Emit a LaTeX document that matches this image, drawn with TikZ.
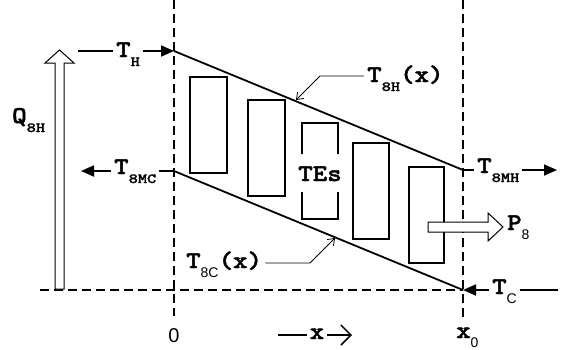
\documentclass[tikz,border=0pt]{standalone}
\usepackage{fontspec}
\setsansfont{Liberation Sans}
\newfontfamily\courb{lmmonolt10-bold.otf}[FakeStretch=1.15,FakeBold=1.8]
\newfontfamily\courbs{lmmonolt10-bold.otf}[FakeStretch=1.25,FakeBold=1.2]
\usetikzlibrary{arrows.meta}
\newcommand{\mainf}{\fontsize{24}{24}\selectfont\courb}
\newcommand{\subm}[1]{\raisebox{-9pt}{\fontsize{14}{14}\selectfont\courbs #1}}
\newcommand{\subsf}[1]{\raisebox{-9pt}{\fontsize{14}{14}\selectfont\sffamily #1}}
\tikzset{
  lbl/.style={inner xsep=3pt, inner ysep=0pt, font=\mainf},
  dashline/.style={line width=1.8pt, dash pattern=on 9pt off 5pt},
  mainline/.style={line width=1.8pt},
  boxline/.style={line width=1.6pt},
  tarrow/.style={line width=1.8pt, -{Triangle[length=13pt,width=11pt]}},
  leader/.style={line width=0.8pt, -{Straight Barb[length=6pt,width=9pt]}},
  openarrow/.style={line width=1pt, fill=white, line join=miter}
}
\begin{document}
\begin{tikzpicture}[x=1pt,y=-1pt]
\useasboundingbox (0,0) rectangle (569,349);
% key coordinates
\coordinate (hot) at (174,51);
\coordinate (mc) at (174,171);
\coordinate (mh) at (463,170);
\coordinate (cold) at (463,290);
\coordinate (thstart) at (78,51);
\coordinate (mcend) at (81,171);
\coordinate (mhend) at (557,170);
\coordinate (tcend) at (558,290);
\coordinate (hbend) at (320,76);
\coordinate (htip) at (296,100);
\coordinate (cbend) at (310,263);
\coordinate (ctip) at (335,238);
\coordinate (xstart) at (278,335);
\coordinate (xend) at (352,335);
% dashed guides
\draw[dashline] (174,0) -- (174,316);
\draw[dashline] (463,0) -- (463,317);
\draw[dashline] (40,290) -- (cold);
% main temperature lines
\draw[mainline] (hot) -- (mh);
\draw[mainline] (mc) -- (cold);
% TE boxes
\draw[boxline] (190,77) rectangle (227,173);
\draw[boxline] (248,100) rectangle (285,196);
\draw[boxline] (302,154) -- (302,123) -- (338,123) -- (338,154);
\draw[boxline] (302,192) -- (302,219) -- (338,219) -- (338,192);
\draw[boxline] (353,143) rectangle (389,239);
\draw[boxline] (409,167) rectangle (444,263);
\node[lbl, anchor=base] (tes) at (320,181) {TEs};
% P8 open arrow
\draw[openarrow] (428,222) -- (488,222) -- (488,213) -- (503,227) -- (488,241) -- (488,232) -- (428,232) -- cycle;
\node[lbl, anchor=base west] (p8) at (504,230) {P\subsf{8}};
% Q8H open arrow
\draw[openarrow] (55,289) -- (55,63) -- (45,63) -- (59.5,50) -- (74,63) -- (64,63) -- (64,289) -- cycle;
\node[lbl, anchor=base west] (q8h) at (9,123) {Q\subm{8H}};
% T_H
\node[lbl, anchor=base west] (th) at (113,57) {T\subm{H}};
\draw[mainline] (thstart) -- (thstart -| th.west);
\draw[tarrow] (th.east |- hot) -- (hot);
% T_8MC
\node[lbl, anchor=base west] (tmc) at (111,174) {T\subm{8MC}};
\draw[tarrow] (tmc.west |- mc) -- (mcend);
\draw[mainline] (mc) -- (mc -| tmc.east);
% T_8MH
\node[lbl, anchor=base west] (tmh) at (474,173) {T\subm{8MH}};
\draw[mainline] (mh) -- (mh -| tmh.west);
\draw[tarrow] (tmh.east |- mh) -- (mhend);
% T_C
\node[lbl, anchor=base west] (tc) at (489,294) {T\subsf{C}};
\draw[tarrow] (tc.west |- cold) -- (cold);
\draw[mainline] (tc.east |- cold) -- (tcend);
% T_8H(x)
\node[lbl, anchor=base west] (t8h) at (364,82) {T\subm{8H}(x)};
\draw[leader] (t8h.west |- hbend) -- (hbend) -- (htip);
% T_8C(x)
\node[lbl, anchor=base west] (t8c) at (183,268) {T\subsf{8C}(x)};
\draw[leader] (t8c.east |- cbend) -- (cbend) -- (ctip);
% axis labels
\node[lbl, anchor=base, font=\fontsize{20}{20}\selectfont\sffamily] (zero) at (174,342) {0};
\node[lbl, anchor=base] (xlab) at (317,339) {x};
\draw[line width=1.5pt] (xstart) -- (xstart -| xlab.west);
\draw[line width=1.5pt, -{Straight Barb[length=10pt,width=20pt]}] (xlab.east |- xend) -- (xend);
\node[lbl, anchor=base west] (x0) at (453,338) {x\subsf{0}};
\end{tikzpicture}
\end{document}
